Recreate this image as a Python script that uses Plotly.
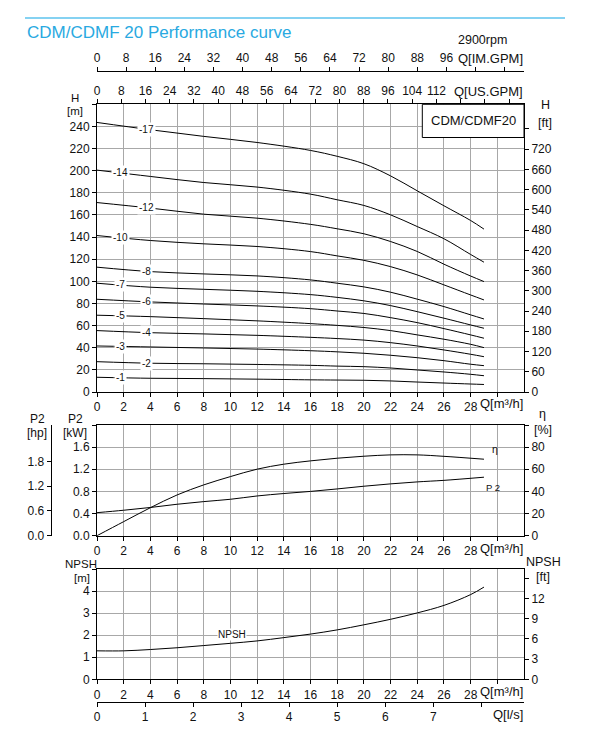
import numpy as np
import plotly.graph_objects as go

W, HGT = 591, 753

# ---------------- data ----------------
Q_HEAD = [0, 4, 8, 12, 16, 18, 20, 22, 24, 26, 28, 29]
H_17 = [243.6, 237.0, 231.0, 225.5, 218.3, 213.0, 206.3, 195.3, 181.8, 168.3, 155.0, 147.2]
H_14 = [200.5, 194.8, 189.3, 185.2, 178.8, 173.7, 168.6, 160.1, 149.5, 138.5, 124.3, 117.3]
H_12 = [171.2, 166.2, 160.7, 157.1, 151.5, 147.5, 143.0, 136.0, 127.0, 115.5, 104.8, 99.8]
H_10 = [141.4, 136.9, 133.9, 131.5, 126.9, 123.0, 119.0, 113.3, 105.8, 96.8, 87.7, 83.2]
H_8 = [112.8, 108.8, 106.7, 104.9, 101.3, 98.3, 95.0, 90.2, 83.9, 77.2, 69.7, 66.0]
H_7 = [98.3, 94.7, 92.8, 91.0, 88.0, 85.5, 82.4, 78.1, 72.6, 66.7, 60.6, 57.6]
H_6 = [83.8, 81.4, 79.5, 77.8, 75.3, 73.2, 71.0, 67.2, 62.7, 57.3, 51.6, 48.6]
H_5 = [69.4, 68.1, 66.3, 64.3, 61.8, 60.2, 58.3, 55.5, 51.6, 47.7, 43.1, 40.1]
H_4 = [55.5, 53.6, 52.5, 51.2, 49.4, 48.3, 46.9, 44.6, 41.6, 38.0, 34.1, 31.9]
H_3 = [41.6, 40.7, 39.8, 38.8, 37.3, 36.3, 35.0, 33.2, 31.0, 28.3, 25.1, 23.8]
H_2 = [27.4, 26.0, 25.5, 24.9, 24.1, 23.4, 22.9, 21.7, 19.9, 18.1, 16.0, 14.7]
H_1 = [13.3, 12.4, 12.1, 11.6, 11.0, 10.8, 10.6, 10.0, 9.0, 8.1, 7.2, 6.8]
STAGE_LABELS = ["-17", "-14", "-12", "-10", "-8", "-7", "-6", "-5", "-4", "-3", "-2", "-1"]
HEAD_CURVES = [H_17, H_14, H_12, H_10, H_8, H_7, H_6, H_5, H_4, H_3, H_2, H_1]

Q_EFF = [0, 2, 4, 6, 8, 10, 12, 14, 16, 18, 20, 22, 24, 26, 29]
ETA = [0, 12.7, 25.3, 36.8, 45.9, 53.4, 60.1, 64.6, 67.6, 70.0, 71.8, 73.0, 73.0, 71.7, 69.1]
P2_KW = [0.416, 0.46, 0.51, 0.568, 0.616, 0.658, 0.718, 0.762, 0.80, 0.845, 0.894, 0.936, 0.972, 1.0, 1.057]

Q_NPSH = [0, 2, 4, 6, 8, 10, 12, 14, 16, 18, 20, 22, 24, 26, 28, 29]
NPSH_M = [1.29, 1.29, 1.35, 1.43, 1.53, 1.63, 1.74, 1.89, 2.05, 2.24, 2.47, 2.72, 3.01, 3.35, 3.84, 4.18]

X_TICKS = list(range(0, 31, 2))
X_TEXT = [str(v) for v in range(0, 29, 2)] + [""]

# ---------------- layout helpers ----------------
FONT = "Liberation Sans, Arial, sans-serif"
TXT = "#111111"
GRID = "#a8a8a8"
BLUE = "#29a9e1"


def px(x):
    return x / W


def py(y):
    return 1 - y / HGT


XD = [px(97), px(524)]
TOP = [py(392), py(104.3)]
MID = [py(535.7), py(425)]
BOT = [py(679.3), py(569)]

base = dict(showline=True, linecolor="black", linewidth=1, ticks="outside", ticklen=4,
            tickcolor="black", tickwidth=1, tickfont=dict(size=12, color=TXT, family=FONT),
            zeroline=False, showgrid=False, automargin=False, fixedrange=True)

fig = go.Figure()

LINE = dict(color="black", width=1, shape="spline", smoothing=1.0)

# head curves
for lab, hv in zip(STAGE_LABELS, HEAD_CURVES):
    fig.add_trace(go.Scatter(x=Q_HEAD, y=hv, mode="lines", line=LINE,
                             xaxis="x", yaxis="y", showlegend=False, hoverinfo="skip"))
# efficiency and power
fig.add_trace(go.Scatter(x=Q_EFF, y=ETA, mode="lines", line=LINE,
                         xaxis="x4", yaxis="y4", showlegend=False, hoverinfo="skip"))
fig.add_trace(go.Scatter(x=Q_EFF, y=P2_KW, mode="lines", line=LINE,
                         xaxis="x4", yaxis="y3", showlegend=False, hoverinfo="skip"))
# NPSH
fig.add_trace(go.Scatter(x=Q_NPSH, y=NPSH_M, mode="lines", line=LINE,
                         xaxis="x5", yaxis="y6", showlegend=False, hoverinfo="skip"))
# empty traces to activate secondary axes
for xa, ya in [("x2", "y"), ("x3", "y"), ("x", "y2"), ("x4", "y5"), ("x5", "y7"), ("x6", "y6")]:
    fig.add_trace(go.Scatter(x=[None], y=[None], mode="lines", xaxis=xa, yaxis=ya, showlegend=False, hoverinfo="skip"))

lay = dict(
    width=W, height=HGT, margin=dict(l=0, r=0, t=0, b=0), template="none",
    paper_bgcolor="white", plot_bgcolor="white", showlegend=False,
    font=dict(family=FONT, color=TXT, size=12),
)

# top panel
lay["xaxis"] = dict(base, domain=XD, anchor="y", range=[0, 32], tickvals=X_TICKS, ticktext=X_TEXT,
                    showgrid=True, gridcolor=GRID, gridwidth=1, mirror=True)
lay["yaxis"] = dict(base, domain=TOP, anchor="x", range=[0, 260], tickvals=list(range(0, 261, 20)),
                    ticktext=[str(v) for v in range(0, 241, 20)] + [""], showgrid=True, gridcolor=GRID,
                    gridwidth=1, mirror=True)
us_max = 32 * 4.40287
lay["xaxis2"] = dict(base, overlaying="x", side="top", anchor="y", range=[0, us_max], showline=False,
                     tickvals=list(range(0, 137, 8)), ticktext=[str(v) for v in range(0, 113, 8)] + ["", "", ""])
im_max = 32 * 3.66615
lay["xaxis3"] = dict(base, overlaying="x", side="top", anchor="free", position=py(71), range=[0, im_max],
                     tickvals=list(range(0, 113, 8)), ticktext=[str(v) for v in range(0, 97, 8)] + ["", ""])
lay["yaxis2"] = dict(base, overlaying="y", side="right", anchor="x", range=[0, 260 * 3.28084],
                     tickvals=list(range(0, 781, 60)), ticktext=[str(v) for v in range(0, 721, 60)] + [""])

# middle panel
lay["xaxis4"] = dict(base, domain=XD, anchor="y3", range=[0, 32], tickvals=X_TICKS, ticktext=X_TEXT,
                     showgrid=True, gridcolor=GRID, gridwidth=1, mirror=True)
lay["yaxis3"] = dict(base, domain=MID, anchor="x4", range=[0, 2.0], tickvals=[0, 0.4, 0.8, 1.2, 1.6, 2.0],
                     ticktext=["0.0", "0.4", "0.8", "1.2", "1.6", ""], showgrid=True, gridcolor=GRID,
                     gridwidth=1, mirror=True)
lay["yaxis4"] = dict(base, overlaying="y3", side="right", anchor="x4", range=[0, 100],
                     tickvals=list(range(0, 101, 20)), ticktext=["0", "20", "40", "60", "80", ""])
lay["yaxis5"] = dict(base, overlaying="y3", side="left", anchor="free", position=px(50.7),
                     range=[0, 2.0 * 1.34102], tickvals=[0, 0.6, 1.2, 1.8], ticktext=["0.0", "0.6", "1.2", "1.8"])

# bottom panel
lay["xaxis5"] = dict(base, domain=XD, anchor="y6", range=[0, 32], tickvals=X_TICKS, ticktext=X_TEXT,
                     showgrid=True, gridcolor=GRID, gridwidth=1, mirror=True)
lay["yaxis6"] = dict(base, domain=BOT, anchor="x5", range=[0, 5], tickvals=[0, 1, 2, 3, 4, 5],
                     ticktext=["0", "1", "2", "3", "4", ""], showgrid=True, gridcolor=GRID, gridwidth=1, mirror=True)
lay["yaxis7"] = dict(base, overlaying="y6", side="right", anchor="x5", range=[0, 5 * 3.28084],
                     tickvals=[0, 3, 6, 9, 12, 15], ticktext=["0", "3", "6", "9", "12", ""])
lay["xaxis6"] = dict(base, overlaying="x5", side="bottom", anchor="free", position=py(701.7),
                     range=[0, 32 / 3.6], tickvals=list(range(0, 9)), ticktext=[str(v) for v in range(0, 8)] + [""])

fig.update_layout(**lay)

ann = []


def txt(x, y, s, size=12.5, xa="center", color=TXT):
    ann.append(dict(x=px(x), y=py(y), xref="paper", yref="paper", text=s, showarrow=False,
                    xanchor=xa, yanchor="middle", font=dict(size=size, color=color, family=FONT)))


# title and header text
txt(25, 33, "CDM/CDMF 20 Performance curve", size=17, xa="left", color=BLUE)
txt(482, 40, "2900rpm", size=12.5)
txt(525, 58.3, "Q[IM.GPM]", size=13, xa="right")
txt(525, 91.7, "Q[US.GPM]", size=13, xa="right")
txt(75, 97.5, "H", size=11.5)
txt(74.5, 111, "[m]", size=11.5)
txt(545, 105, "H", size=12.5)
txt(545, 123, "[ft]", size=12.5)
txt(473.3, 120.8, "CDM/CDMF20", size=13)
txt(525, 403.3, "Q[m³/h]", size=13, xa="right")
# middle titles
txt(38, 419.5, "P2", size=12)
txt(37, 432.5, "[hp]", size=12)
txt(76, 419.5, "P2", size=12)
txt(75, 432.5, "[kW]", size=12)
txt(542.5, 414.5, "η", size=12.5)
txt(543, 429.5, "[%]", size=12.5)
txt(525, 548.3, "Q[m³/h]", size=13, xa="right")
# bottom titles
txt(80.5, 564, "NPSH", size=11.5)
txt(82, 577.5, "[m]", size=11.5)
txt(543.7, 562, "NPSH", size=12.5)
txt(543, 577, "[ft]", size=12.5)
txt(525, 691.7, "Q[m³/h]", size=13, xa="right")
txt(525, 714, "Q[l/s]", size=13, xa="right")

# stage labels on the head curves
LABEL_Q = [3.74, 1.74]
for i, (lab, hv) in enumerate(zip(STAGE_LABELS, HEAD_CURVES)):
    qx = LABEL_Q[i % 2]
    ann.append(dict(x=qx, y=float(np.interp(qx, Q_HEAD, hv)), xref="x", yref="y", text=lab, showarrow=False,
                    bgcolor="white", borderpad=1, font=dict(size=10, color=TXT, family=FONT)))

# curve names
ann.append(dict(x=Q_EFF[-1], y=ETA[-1], xref="x4", yref="y4", text="η", showarrow=False, xanchor="left",
                xshift=6, yshift=10, font=dict(size=10.5, color=TXT, family=FONT)))
ann.append(dict(x=Q_EFF[-1], y=P2_KW[-1], xref="x4", yref="y3", text="P 2", showarrow=False, xanchor="left",
                xshift=0, yshift=-10, font=dict(size=9.5, color=TXT, family=FONT)))
ann.append(dict(x=10.15, y=float(np.interp(10.15, Q_NPSH, NPSH_M)), xref="x5", yref="y6", text="NPSH",
                showarrow=False, yshift=9, bgcolor="white", borderpad=0, font=dict(size=10, color=TXT, family=FONT)))

shapes = [
    dict(type="line", xref="paper", yref="paper", x0=px(25), x1=px(565), y0=py(18), y1=py(18),
         line=dict(color="#5cc3ee", width=1.5)),
    dict(type="rect", xref="paper", yref="paper", x0=px(422.3), x1=px(524), y0=py(137.5), y1=py(104.3),
         line=dict(color="black", width=1), fillcolor="white", layer="above"),
]

fig.update_layout(annotations=ann, shapes=shapes)
fig.write_html("out.html", config={"displayModeBar": False, "staticPlot": True},
               post_script="document.body.style.margin='0px';document.body.style.padding='0px';")
